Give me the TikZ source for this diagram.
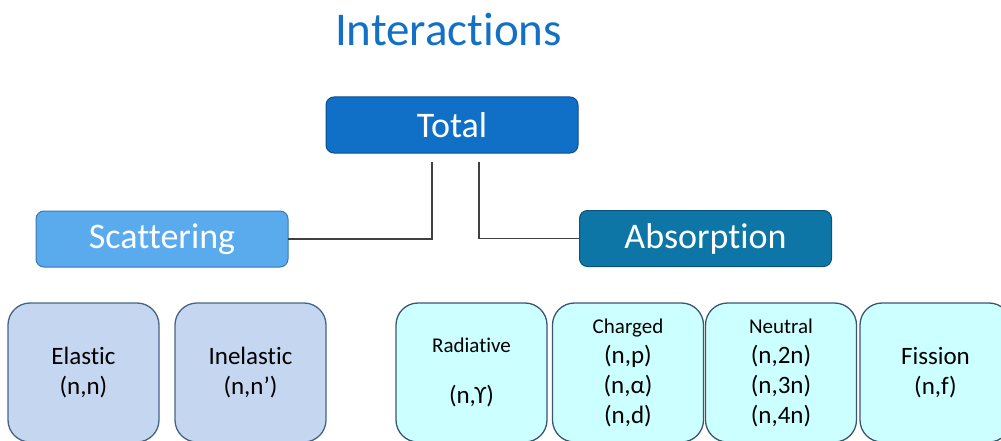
\documentclass[tikz,border=0pt]{standalone}
\usepackage{fontspec}
\setmainfont{Carlito}[RawFeature={-liga;-dlig;-calt}]
\usetikzlibrary{positioning}

\definecolor{titleblue}{RGB}{18,112,198}
\definecolor{totalfill}{RGB}{16,112,200}
\definecolor{totaldraw}{RGB}{12,78,140}
\definecolor{scatfill}{RGB}{90,170,238}
\definecolor{scatdraw}{RGB}{58,120,176}
\definecolor{absfill}{RGB}{14,118,166}
\definecolor{absdraw}{RGB}{10,84,120}
\definecolor{leaffill}{RGB}{197,215,240}
\definecolor{leafdraw}{RGB}{70,100,135}
\definecolor{capfill}{RGB}{204,255,255}
\definecolor{capdraw}{RGB}{60,85,115}
\definecolor{connline}{RGB}{64,64,64}

\newcommand{\bigtxt}{\fontsize{36}{40}\selectfont}
\newcommand{\midtxt}{\fontsize{25}{30}\selectfont}
\newcommand{\smalltxt}{\fontsize{21}{30}\selectfont}

\begin{document}
\begin{tikzpicture}[x=1pt,y=-1pt,align=center,
  every node/.style={inner sep=0,outer sep=0},
  headbox/.style={rounded corners=8pt,line width=1pt,minimum width=252pt,minimum height=56pt,text=white,font=\bigtxt},
  leafbox/.style={rounded corners=22pt,line width=1.3pt,minimum width=151pt,minimum height=139pt,font=\midtxt},
  conn/.style={draw=connline,line width=1.5pt}]
\useasboundingbox (0,0) rectangle (1001,441);
\clip (0,0) rectangle (1001,441);
\fill[white] (0,0) rectangle (1001,441);
\node (title) [anchor=base,text=titleblue,font=\fontsize{47}{50}\selectfont] at (448.5,46) {Interactions};
\node (total) [headbox,fill=totalfill,draw=totaldraw] at (452,125) {Total};
\node (scat) [headbox,fill=scatfill,draw=scatdraw] at (162,239) {Scattering};
\node (abs) [headbox,fill=absfill,draw=absdraw] at (705.5,238.5) {Absorption};
\coordinate (tl) at (432,162);
\coordinate (tr) at (479,162);
\draw [conn] (tl) |- (scat.east);
\draw [conn] (tr) |- (abs.west);
% scattering leaves
\node (elastic) [leafbox,fill=leaffill,draw=leafdraw] at (83.5,372.5) {Elastic\\(n,n)};
\node (inelastic) [leafbox,fill=leaffill,draw=leafdraw] at (250.5,372.5) {Inelastic\\(n,n’)};
% absorption leaves
\node (radiative) [leafbox,fill=capfill,draw=capdraw] at (471.5,372.5) {{\smalltxt Radiative}\\[21pt](n,ϒ)};
\node (charged) [leafbox,fill=capfill,draw=capdraw] at (628,372.5) {{\smalltxt Charged}\\(n,p)\\(n,α)\\(n,d)};
\node (neutral) [leafbox,fill=capfill,draw=capdraw] at (781,372.5) {{\smalltxt Neutral}\\(n,2n)\\(n,3n)\\(n,4n)};
\node (fission) [leafbox,fill=capfill,draw=capdraw] at (935.5,372.5) {Fission\\(n,f)};
\end{tikzpicture}
\end{document}
